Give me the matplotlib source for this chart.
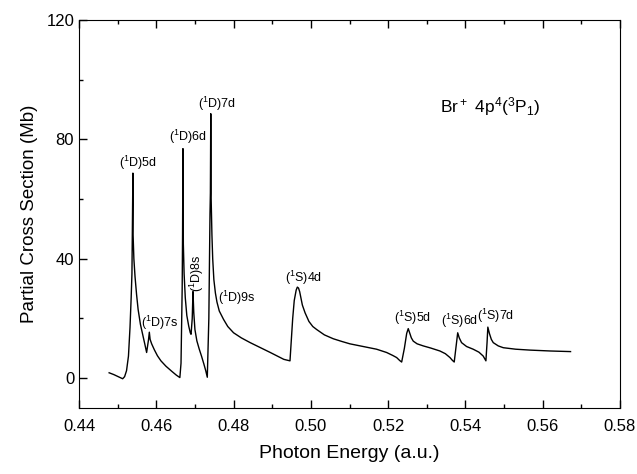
import matplotlib
matplotlib.use('Agg')
import matplotlib.pyplot as plt
from matplotlib.ticker import MultipleLocator, FormatStrFormatter

plt.rcParams['font.family'] = ['Liberation Sans', 'DejaVu Sans']
plt.rcParams['mathtext.default'] = 'regular'

# photon energy (a.u.) and partial cross section (Mb)
energy = [0.4478, 0.4490, 0.4500, 0.4508, 0.4513, 0.4518, 0.4523, 0.4528,
          0.4532, 0.4535, 0.4537, 0.4538, 0.45395, 0.4540, 0.4542, 0.4545,
          0.4549, 0.4553, 0.4559, 0.4566, 0.4571, 0.4575, 0.4580, 0.4582,
          0.4584, 0.4588, 0.4595, 0.4603, 0.4612, 0.4625, 0.4640, 0.4652,
          0.4661, 0.4664, 0.4667, 0.4668, 0.4669, 0.4670, 0.4672, 0.4675,
          0.4679, 0.4684, 0.4688, 0.4690, 0.4693, 0.4695, 0.4697, 0.4700,
          0.4705, 0.4711, 0.4717, 0.4723, 0.4728, 0.4732, 0.4736, 0.4739,
          0.4740, 0.4741, 0.4742, 0.4744, 0.4746, 0.4749, 0.4753, 0.4757,
          0.4763, 0.4774, 0.4785, 0.4800, 0.4820, 0.4843, 0.4870, 0.4895,
          0.4915, 0.4930, 0.4946, 0.4949, 0.4953, 0.4957, 0.4962, 0.4965,
          0.4968, 0.4971, 0.4974, 0.4978, 0.4985, 0.4995, 0.5005, 0.5015,
          0.5035, 0.5058, 0.5080, 0.5101, 0.5136, 0.5170, 0.5196, 0.5212,
          0.5222, 0.5230, 0.5235, 0.5242, 0.5248, 0.5252, 0.5256, 0.5260,
          0.5265, 0.5275, 0.5291, 0.5310, 0.5334, 0.5348, 0.5360, 0.5366,
          0.5371, 0.5376, 0.5380, 0.5384, 0.5390, 0.5403, 0.5420, 0.5435,
          0.5446, 0.5453, 0.5456, 0.5458, 0.5462, 0.5467, 0.5472, 0.5485,
          0.5498, 0.5530, 0.5567, 0.5620, 0.5672]
cross = [1.8, 1.2, 0.6, 0.1, -0.2, 0.5, 2.5, 7.4,
         17.0, 27.0, 35.0, 48.0, 68.7, 48.0, 40.0, 34.0,
         28.0, 23.0, 18.0, 14.0, 11.0, 8.6, 13.0, 15.4,
         13.0, 11.5, 9.5, 7.5, 5.8, 4.0, 2.3, 1.0,
         0.2, 5.0, 30.0, 48.0, 76.9, 45.0, 35.0, 27.0,
         21.0, 17.4, 15.2, 14.7, 20.0, 29.0, 22.0, 16.3,
         12.5, 9.8, 7.4, 4.8, 2.5, 0.3, 20.0, 55.0,
         62.0, 88.6, 60.0, 48.0, 40.0, 33.0, 28.5, 25.5,
         22.5, 19.7, 17.3, 15.2, 13.5, 11.9, 10.2, 8.6,
         7.3, 6.3, 5.8, 12.0, 20.0, 26.0, 29.5, 30.5,
         30.2, 29.0, 27.0, 24.5, 21.9, 19.0, 17.3, 16.3,
         14.5, 13.2, 12.3, 11.5, 10.6, 9.7, 8.6, 7.6,
         6.9, 5.9, 5.4, 10.0, 15.0, 16.6, 15.0, 13.5,
         12.4, 11.5, 10.8, 10.1, 9.1, 8.2, 6.9, 6.0,
         5.4, 11.0, 15.2, 13.5, 11.9, 10.6, 9.7, 8.7,
         7.4, 5.8, 12.0, 17.1, 15.0, 13.0, 11.9, 10.8,
         10.2, 9.7, 9.4, 9.1, 8.9]

# resonance labels
peak_names = ['(${}^1$D)5d', '(${}^1$D)6d', '(${}^1$D)7d', '(${}^1$D)7s',
              '(${}^1$D)9s', '(${}^1$S)4d', '(${}^1$S)5d', '(${}^1$S)6d',
              '(${}^1$S)7d']
peak_x = [0.4553, 0.4681, 0.4757, 0.4608, 0.4809, 0.4980, 0.5263, 0.5386, 0.5479]
peak_y = [72.0, 80.7, 92.0, 18.5, 26.8, 33.7, 20.2, 19.2, 21.0]

fig = plt.figure(figsize=(6.37, 4.74), dpi=100)
ax = fig.add_axes([79/637, 1-408/474, 541/637, 388/474])

ax.plot(energy, cross, color='black', lw=1.0)

for name, px, py in zip(peak_names, peak_x, peak_y):
    ax.text(px, py, name, ha='center', va='center', fontsize=9)
ax.text(0.4705, 35.3, '(${}^1$D)8s', ha='center', va='center',
        fontsize=9, rotation=90)
ax.text(0.5465, 91, 'Br$^+$ 4p$^4$($^3$P$_1$)', ha='center', va='center',
        fontsize=12.5)

ax.set_xlim(0.44, 0.58)
ax.set_ylim(-10, 120)
ax.xaxis.set_major_locator(MultipleLocator(0.02))
ax.xaxis.set_minor_locator(MultipleLocator(0.01))
ax.xaxis.set_major_formatter(FormatStrFormatter('%.2f'))
ax.yaxis.set_major_locator(MultipleLocator(40))
ax.yaxis.set_minor_locator(MultipleLocator(20))
ax.tick_params(which='both', direction='in', top=True, right=False,
               labelsize=12)
ax.tick_params(which='major', length=6, width=1)
ax.tick_params(which='minor', length=3, width=1)
ax.tick_params(axis='x', pad=8)

ax.set_xlabel('Photon Energy (a.u.)', fontsize=14, labelpad=8)
ax.set_ylabel('Partial Cross Section (Mb)', fontsize=13.5, labelpad=6)

fig.savefig('out.png', dpi=100)
